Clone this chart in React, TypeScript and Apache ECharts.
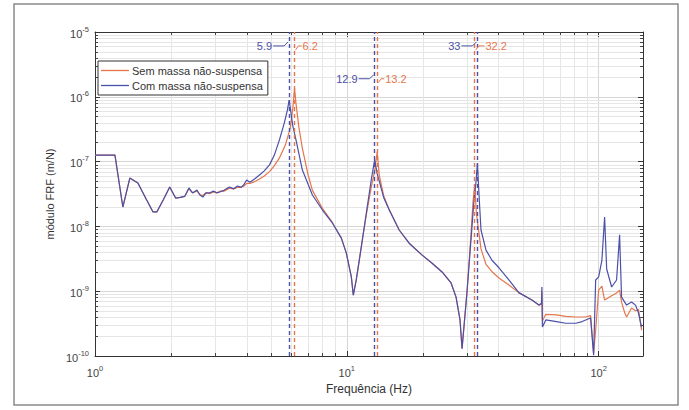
import React, { useEffect, useRef } from "react";
import * as echarts from "echarts";

// Com massa não-suspensa (blue)
const freqCom = [1.0, 1.2, 1.29, 1.375, 1.48, 1.6, 1.7, 1.76, 1.87, 1.98, 2.09, 2.18, 2.27, 2.36, 2.44, 2.54, 2.61, 2.68, 2.76, 2.85, 2.95, 3.05, 3.13, 3.25, 3.42, 3.55, 3.68, 3.8, 3.9, 4.0, 4.12, 4.3, 4.5, 4.7, 4.93, 5.15, 5.4, 5.65, 5.81, 5.9, 5.97, 6.1, 6.31, 6.66, 7.3, 8.0, 8.76, 9.51, 9.95, 10.42, 10.61, 10.9, 11.21, 11.95, 12.5, 12.9, 13.2, 13.45, 14.0, 14.74, 16.14, 17.68, 19.91, 21.81, 23.89, 25.94, 27.15, 28.15, 28.68, 30.01, 31.12, 31.99, 32.6, 33.0, 33.5, 34.1, 35.7, 37.7, 40.2, 44.0, 48.2, 54.3, 57.9, 59.3, 59.5, 59.8, 61.7, 68.0, 74.0, 81.1, 86.0, 88.8, 92.9, 95.5, 97.3, 100, 103, 105.6, 107.6, 112.6, 117.8, 121.1, 123.3, 129.1, 135.1, 140.1, 144.0, 148.0];
const magCom = [1.26e-7, 1.26e-7, 1.99e-8, 5.58e-8, 4.68e-8, 2.6e-8, 1.67e-8, 1.67e-8, 2.6e-8, 4.06e-8, 2.74e-8, 2.8e-8, 2.9e-8, 3.92e-8, 3.28e-8, 3.65e-8, 3.05e-8, 2.84e-8, 3.3e-8, 3.28e-8, 3.5e-8, 3.3e-8, 3.4e-8, 3.6e-8, 4.06e-8, 3.8e-8, 4.2e-8, 4.0e-8, 4.4e-8, 5.2e-8, 4.8e-8, 5.4e-8, 6.2e-8, 7.2e-8, 8.9e-8, 1.25e-7, 2.16e-7, 4.0e-7, 6.3e-7, 8.9e-7, 6.5e-7, 3.6e-7, 2.0e-7, 7.4e-8, 3.05e-8, 1.79e-8, 1.13e-8, 6.6e-9, 3.9e-9, 1.66e-9, 8.7e-10, 1.5e-9, 3.0e-9, 1.61e-8, 5.2e-8, 1.06e-7, 6.5e-8, 5.0e-8, 2.8e-8, 1.79e-8, 8.8e-9, 5.5e-9, 3.6e-9, 2.7e-9, 1.98e-9, 1.34e-9, 8.1e-10, 3.6e-10, 1.3e-10, 9.7e-10, 6.2e-9, 2.55e-8, 5.0e-8, 9.5e-8, 3.0e-8, 8.8e-9, 4.3e-9, 3.0e-9, 2.3e-9, 1.5e-9, 9.5e-10, 7.3e-10, 6.1e-10, 6.5e-10, 1.16e-9, 2.8e-10, 3.6e-10, 3.4e-10, 3.2e-10, 3.2e-10, 3.4e-10, 3.6e-10, 3.86e-10, 1.03e-10, 1.49e-9, 1.66e-9, 3.0e-9, 1.4e-8, 2.2e-9, 1.16e-9, 1.49e-9, 7.4e-9, 8.1e-10, 6.1e-10, 6.8e-10, 6.1e-10, 4.6e-10, 2.8e-10];

// Sem massa não-suspensa (orange)
const freqSem = [1.0, 1.2, 1.29, 1.375, 1.48, 1.6, 1.7, 1.76, 1.87, 1.98, 2.09, 2.18, 2.27, 2.36, 2.44, 2.54, 2.61, 2.68, 2.76, 2.85, 2.95, 3.05, 3.13, 3.25, 3.42, 3.55, 3.68, 3.8, 3.9, 4.0, 4.12, 4.3, 4.5, 4.7, 4.93, 5.15, 5.4, 5.7, 5.95, 6.1, 6.2, 6.28, 6.45, 6.66, 7.0, 7.3, 8.0, 8.76, 9.51, 9.95, 10.42, 10.61, 10.9, 11.21, 11.95, 12.5, 12.9, 13.2, 13.45, 14.0, 14.74, 16.14, 17.68, 19.91, 21.81, 23.89, 25.94, 27.15, 28.15, 28.68, 30.01, 31.12, 31.7, 32.2, 32.7, 34.1, 35.7, 37.7, 40.2, 44.0, 48.2, 54.3, 57.9, 59.3, 59.5, 59.8, 61.7, 68.0, 74.0, 81.1, 88.8, 92.9, 95.5, 97.3, 100, 103, 105.6, 112.6, 117.8, 121.1, 123.3, 127, 129.1, 135.1, 140.1, 144.0, 148.0];
const magSem = [1.26e-7, 1.26e-7, 1.99e-8, 5.58e-8, 4.68e-8, 2.6e-8, 1.67e-8, 1.67e-8, 2.6e-8, 4.06e-8, 2.74e-8, 2.8e-8, 2.9e-8, 3.8e-8, 3.3e-8, 3.5e-8, 3.1e-8, 3.0e-8, 3.3e-8, 3.2e-8, 3.4e-8, 3.3e-8, 3.5e-8, 3.5e-8, 3.9e-8, 3.8e-8, 4.0e-8, 4.0e-8, 4.2e-8, 4.6e-8, 4.6e-8, 4.9e-8, 5.4e-8, 6.0e-8, 7.0e-8, 8.6e-8, 1.14e-7, 1.8e-7, 3.2e-7, 6.5e-7, 1.37e-6, 8.0e-7, 3.4e-7, 1.6e-7, 6.5e-8, 3.6e-8, 1.9e-8, 1.15e-8, 6.6e-9, 3.9e-9, 1.66e-9, 8.7e-10, 1.5e-9, 3.1e-9, 1.5e-8, 4.0e-8, 7.2e-8, 1.41e-7, 6.2e-8, 3.0e-8, 1.8e-8, 8.8e-9, 5.5e-9, 3.6e-9, 2.7e-9, 1.98e-9, 1.34e-9, 8.1e-10, 3.6e-10, 1.3e-10, 1.0e-9, 7.5e-9, 2.4e-8, 4.4e-8, 1.6e-8, 4.5e-9, 2.6e-9, 2.0e-9, 1.6e-9, 1.25e-9, 9.5e-10, 7.3e-10, 6.1e-10, 6.3e-10, 1.0e-9, 3.5e-10, 4.4e-10, 4.3e-10, 4.1e-10, 4.0e-10, 4.0e-10, 4.2e-10, 1.1e-10, 2.5e-10, 1.04e-9, 1.2e-9, 7.3e-10, 8.5e-10, 9.4e-10, 1.04e-9, 6.8e-10, 4.6e-10, 4.0e-10, 5.5e-10, 5.0e-10, 5.2e-10, 2.5e-10];

const peaksCom = [5.9, 12.9, 33];
const peaksSem = [6.2, 13.2, 32.2];
const peakTextCom = ["5.9", "12.9", "33"];
const peakTextSem = ["6.2", "13.2", "32.2"];
const annotLevels = [6.1e-6, 1.9e-6, 6.1e-6];

const xMin = 1;
const xMax = 150;
const yMin = 1e-10;
const yMax = 1e-5;
const minorXTicks = [2, 3, 4, 5, 6, 7, 8, 9, 20, 30, 40, 50, 60, 70, 80, 90];
const minorYTicks: number[] = [];
for (let d = -10; d <= -6; d++) {
  for (let k = 2; k <= 9; k++) minorYTicks.push(Number((k * Math.pow(10, d)).toPrecision(3)));
}

const BLUE = "#4b50a8";
const ORANGE = "#e5764c";
const FONT = "Liberation Sans";

export default function App() {
  const ref = useRef<HTMLDivElement>(null);
  useEffect(() => {
    const chart = echarts.init(ref.current!, null, { renderer: "svg" });
    const pair = (f: number[], m: number[]) => f.map((x, i) => [x, m[i]]);
    const fmt = (v: number) => {
      const l = Math.log10(v);
      const e = Math.round(l);
      if (Math.abs(l - e) > 1e-6) return "";
      return `{b|10}{s|${e}}`;
    };
    const rich = {
      b: { fontSize: 11, color: "#444", fontFamily: FONT, lineHeight: 14, verticalAlign: "bottom" },
      s: { fontSize: 7.5, color: "#444", fontFamily: FONT, lineHeight: 14, verticalAlign: "top" },
    };
    const axisCommon = {
      axisLine: { show: true, lineStyle: { color: "#333", width: 1 } },
      axisTick: { show: true, inside: true, length: 5, lineStyle: { color: "#333" } },
    };
    const minorRender = (vertical: boolean) => (params: any, api: any) => {
      const cs = params.coordSys;
      const p = api.coord([api.value(0), api.value(1)]);
      const children: any[] = [];
      if (vertical) {
        const x = Math.round(p[0]) + 0.5;
        children.push({ type: "line", shape: { x1: x, y1: cs.y, x2: x, y2: cs.y + cs.height }, style: { stroke: "#e6e6e6", lineWidth: 1 } });
        children.push({ type: "line", shape: { x1: x, y1: cs.y + cs.height, x2: x, y2: cs.y + cs.height - 3 }, style: { stroke: "#444", lineWidth: 1 } });
        children.push({ type: "line", shape: { x1: x, y1: cs.y, x2: x, y2: cs.y + 3 }, style: { stroke: "#444", lineWidth: 1 } });
      } else {
        const y = Math.round(p[1]) + 0.5;
        children.push({ type: "line", shape: { x1: cs.x, y1: y, x2: cs.x + cs.width, y2: y }, style: { stroke: "#e6e6e6", lineWidth: 1 } });
        children.push({ type: "line", shape: { x1: cs.x, y1: y, x2: cs.x + 3, y2: y }, style: { stroke: "#444", lineWidth: 1 } });
        children.push({ type: "line", shape: { x1: cs.x + cs.width, y1: y, x2: cs.x + cs.width - 3, y2: y }, style: { stroke: "#444", lineWidth: 1 } });
      }
      return { type: "group", children };
    };

    chart.setOption({
      animation: false,
      backgroundColor: "#fff",
      textStyle: { fontFamily: FONT },
      grid: { left: 95, top: 32, right: 46, bottom: 54, show: false },
      legend: {
        data: ["Sem massa não-suspensa", "Com massa não-suspensa"],
        orient: "vertical",
        left: 98,
        top: 61,
        icon: "rect",
        itemWidth: 28,
        itemHeight: 1.3,
        itemGap: 4,
        padding: [4, 5, 4, 3],
        borderColor: "#333",
        borderWidth: 1,
        backgroundColor: "#fff",
        textStyle: { fontSize: 11, color: "#333", fontFamily: FONT, padding: [0, 0, 0, -2] },
      },
      xAxis: [
        {
          type: "log",
          logBase: 10,
          min: xMin,
          max: xMax,
          ...axisCommon,
          axisLabel: { formatter: fmt, rich, margin: 8 },
          splitLine: { show: true, lineStyle: { color: "#d6d6d6", width: 1 } },
          name: "Frequência (Hz)",
          nameLocation: "middle",
          nameGap: 27,
          nameTextStyle: { fontSize: 12, color: "#333", fontFamily: FONT },
        },
        {
          type: "log",
          logBase: 10,
          min: xMin,
          max: xMax,
          position: "top",
          ...axisCommon,
          axisLabel: { show: false },
          splitLine: { show: false },
        },
      ],
      yAxis: [
        {
          type: "log",
          logBase: 10,
          min: yMin,
          max: yMax,
          ...axisCommon,
          axisLabel: { formatter: fmt, rich, margin: 6 },
          splitLine: { show: true, lineStyle: { color: "#d6d6d6", width: 1 } },
          name: "módulo FRF (m/N)",
          nameLocation: "middle",
          nameGap: 37,
          nameTextStyle: { fontSize: 11, color: "#333", fontFamily: FONT },
        },
        {
          type: "log",
          logBase: 10,
          min: yMin,
          max: yMax,
          position: "right",
          ...axisCommon,
          axisLabel: { show: false },
          splitLine: { show: false },
        },
      ],
      series: [
        {
          type: "custom",
          name: "minorX",
          coordinateSystem: "cartesian2d",
          silent: true,
          z: 1,
          data: minorXTicks.map((x) => [x, yMin]),
          renderItem: minorRender(true),
        },
        {
          type: "custom",
          name: "minorY",
          coordinateSystem: "cartesian2d",
          silent: true,
          z: 1,
          data: minorYTicks.map((y) => [xMin, y]),
          renderItem: minorRender(false),
        },
        {
          type: "line",
          name: "Sem massa não-suspensa",
          data: pair(freqSem, magSem),
          symbol: "none",
          showSymbol: false,
          lineStyle: { color: ORANGE, width: 1.2 },
          itemStyle: { color: ORANGE },
          z: 3,
          markLine: {
            silent: true,
            symbol: ["none", "none"],
            label: { show: false },
            lineStyle: { type: [4, 3], color: ORANGE, width: 1.4 },
            data: peaksSem.map((v) => ({ xAxis: v })),
          },
        },
        {
          type: "line",
          name: "Com massa não-suspensa",
          data: pair(freqCom, magCom),
          symbol: "none",
          showSymbol: false,
          lineStyle: { color: BLUE, width: 1.2 },
          itemStyle: { color: BLUE },
          z: 4,
          markLine: {
            silent: true,
            symbol: ["none", "none"],
            label: { show: false },
            lineStyle: { type: [4, 3], color: BLUE, width: 1.4 },
            data: peaksCom.map((v) => ({ xAxis: v })),
          },
        },
      ],
    });

    const g: any[] = [
      {
        type: "rect",
        z: -10,
        shape: { x: 14, y: 4, width: 664, height: 401 },
        style: { fill: "none", stroke: "#8a8a8a", lineWidth: 1.5 },
      },
    ];
    const font = `11px "${FONT}"`;
    peaksCom.forEach((b, i) => {
      const o = peaksSem[i];
      const pb = chart.convertToPixel({ xAxisIndex: 0 }, b) as number;
      const po = chart.convertToPixel({ xAxisIndex: 0 }, o) as number;
      const py = chart.convertToPixel({ yAxisIndex: 0 }, annotLevels[i]) as number;
      const right = Math.max(pb, po);
      g.push({
        type: "text",
        x: pb - 17,
        y: py,
        z: 100,
        style: { text: peakTextCom[i], fill: BLUE, font, align: "right", verticalAlign: "middle", textAlign: "right", textVerticalAlign: "middle" },
      });
      g.push({
        type: "polyline",
        z: 100,
        shape: { points: [[pb - 16, py], [pb - 5, py], [pb - 1, py - 4]] },
        style: { stroke: BLUE, fill: "none", lineWidth: 1 },
      });
      g.push({
        type: "text",
        x: right + 8,
        y: py,
        z: 100,
        style: { text: peakTextSem[i], fill: ORANGE, font, align: "left", verticalAlign: "middle", textAlign: "left", textVerticalAlign: "middle" },
      });
      g.push({
        type: "polyline",
        z: 100,
        shape: { points: [[po + 1, py + 4], [po + 4, py], [right + 7, py]] },
        style: { stroke: ORANGE, fill: "none", lineWidth: 1 },
      });
    });
    chart.setOption({ graphic: g });

    return () => chart.dispose();
  }, []);
  return (
    <div
      ref={ref}
      style={{ position: "absolute", left: 0, top: 0, width: 689, height: 410, background: "#fff" }}
    />
  );
}
